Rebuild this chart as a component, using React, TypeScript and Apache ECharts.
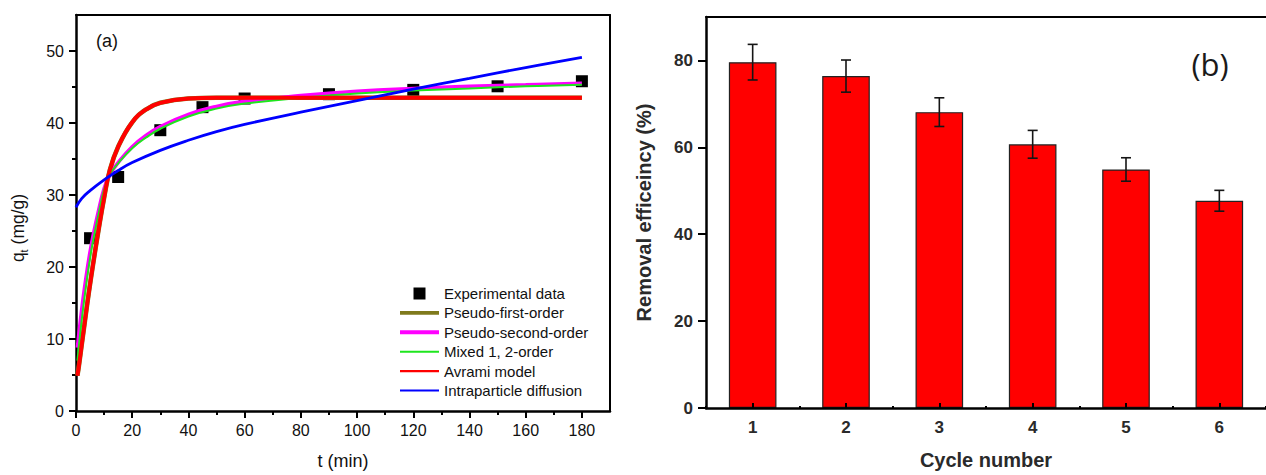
import React, { useEffect, useRef } from 'react';
import * as echarts from 'echarts';

// ---- Panel (a): adsorption kinetics ----
const tExp = [5, 15, 30, 45, 60, 90, 120, 150, 180];
const qExp = [24.0, 32.5, 39.0, 42.2, 43.4, 44.0, 44.6, 45.1, 45.8];

const tFit = [0.5, 1, 2, 3, 4, 5, 6, 8, 10, 12, 15, 20, 25, 30, 40, 50, 60, 80, 100, 120, 140, 160, 180];
const qPseudoFirst = [4.9, 6.2, 9.1, 12.0, 14.9, 17.6, 20.2, 25.1, 29.6, 33.4, 36.7, 40.1, 41.9, 42.8, 43.4, 43.5, 43.5, 43.5, 43.5, 43.5, 43.5, 43.5, 43.5];
const qPseudoSecond = [8.8, 10.6, 14.0, 17.0, 19.7, 22.1, 24.2, 27.8, 30.9, 32.8, 34.5, 36.7, 38.3, 39.5, 41.2, 42.3, 43.0, 43.8, 44.4, 44.8, 45.1, 45.3, 45.5];
const qMixed = [7.0, 8.9, 12.5, 15.7, 18.6, 21.2, 23.5, 27.3, 30.8, 32.8, 34.4, 36.5, 38.0, 39.2, 40.9, 42.0, 42.7, 43.5, 44.1, 44.5, 44.8, 45.1, 45.3];
const qAvrami = [4.9, 6.2, 9.1, 12.0, 14.9, 17.6, 20.2, 25.1, 29.6, 33.4, 36.7, 40.1, 41.9, 42.8, 43.4, 43.5, 43.5, 43.5, 43.5, 43.5, 43.5, 43.5, 43.5];

const tIntra = [0, 2, 5, 10, 15, 20, 30, 40, 50, 60, 80, 100, 120, 140, 160, 180];
const qIntra = [28.3, 29.5, 30.6, 32.1, 33.4, 34.5, 36.2, 37.6, 38.8, 39.8, 41.5, 43.1, 44.7, 46.2, 47.7, 49.1];

const xTicksA = [0, 20, 40, 60, 80, 100, 120, 140, 160, 180];
const xMinorA = [10, 30, 50, 70, 90, 110, 130, 150, 170];
const yTicksA = [0, 10, 20, 30, 40, 50];
const yMinorA = [5, 15, 25, 35, 45];

// ---- Panel (b): reusability ----
const cycles = ['1', '2', '3', '4', '5', '6'];
const removal = [79.6, 76.4, 68.1, 60.7, 54.9, 47.7];
const removalErr = [4.1, 3.7, 3.3, 3.2, 2.7, 2.4];
const yTicksB = [0, 20, 40, 60, 80];

const FONT = '"Liberation Sans", Arial, sans-serif';

export default function App() {
  const ref = useRef<HTMLDivElement>(null);
  useEffect(() => {
    document.body.style.margin = '0';
    const chart = echarts.init(ref.current!, null, { renderer: 'svg' });
    const black = '#000';
    const txt = '#111';
    const txtB = '#2a2a2a';
    const hiddenAxis = {
      axisTick: { show: false },
      axisLabel: { show: false },
      splitLine: { show: false },
    };
    const thick = 'path://M0,0H40V4H0Z';
    const thin = 'path://M0,0H40V2.2H0Z';
    const SM = 0.45;

    const option: any = {
      animation: false,
      backgroundColor: '#fff',
      grid: [
        { left: 76, top: 15, width: 534, height: 398 },
        { left: 706, top: 17, width: 569, height: 392 },
      ],
      xAxis: [
        {
          type: 'value', gridIndex: 0, min: 0, max: 190, position: 'bottom',
          axisLine: { show: true, onZero: false, lineStyle: { color: black, width: 2.5 } },
          axisTick: { show: true, customValues: xTicksA, length: 7, lineStyle: { color: black, width: 2 } },
          axisLabel: { customValues: xTicksA, color: txt, fontSize: 16, fontFamily: FONT, margin: 11 },
          splitLine: { show: false },
          name: 't (min)', nameLocation: 'middle', nameGap: 41,
          nameTextStyle: { fontSize: 18, color: txt, fontFamily: FONT },
        },
        {
          type: 'value', gridIndex: 0, min: 0, max: 190, position: 'bottom',
          axisLine: { show: false, onZero: false },
          axisTick: { show: true, customValues: xMinorA, length: 4, lineStyle: { color: black, width: 2 } },
          axisLabel: { show: false }, splitLine: { show: false },
        },
        {
          type: 'value', gridIndex: 0, min: 0, max: 190, position: 'top',
          axisLine: { show: true, onZero: false, lineStyle: { color: black, width: 2 } },
          ...hiddenAxis,
        },
        {
          type: 'category', gridIndex: 1, data: cycles, position: 'bottom', boundaryGap: true, z: 5,
          axisLine: { show: true, onZero: false, lineStyle: { color: black, width: 2.5 } },
          axisTick: { show: true, inside: true, alignWithLabel: true, length: 5, lineStyle: { color: black, width: 2 } },
          axisLabel: { color: txtB, fontSize: 17, fontWeight: 'bold', fontFamily: FONT, margin: 11 },
          splitLine: { show: false },
          name: 'Cycle number', nameLocation: 'middle', nameGap: 42,
          nameTextStyle: { fontSize: 20, fontWeight: 'bold', color: txtB, fontFamily: FONT },
        },
        {
          type: 'value', gridIndex: 1, min: 0, max: 12, interval: 1, position: 'bottom', z: 5,
          axisLine: { show: false, onZero: false },
          axisTick: { show: true, inside: true, length: 2, lineStyle: { color: black, width: 2 } },
          axisLabel: { show: false }, splitLine: { show: false },
        },
        {
          type: 'value', gridIndex: 1, min: 0, max: 12, position: 'top',
          axisLine: { show: true, onZero: false, lineStyle: { color: black, width: 2 } },
          ...hiddenAxis,
        },
      ],
      yAxis: [
        {
          type: 'value', gridIndex: 0, min: 0, max: 55, position: 'left',
          axisLine: { show: true, onZero: false, lineStyle: { color: black, width: 2.5 } },
          axisTick: { show: true, customValues: yTicksA, length: 7, lineStyle: { color: black, width: 2 } },
          axisLabel: { customValues: yTicksA, color: txt, fontSize: 16, fontFamily: FONT, margin: 12 },
          splitLine: { show: false },
        },
        {
          type: 'value', gridIndex: 0, min: 0, max: 55, position: 'left',
          axisLine: { show: false, onZero: false },
          axisTick: { show: true, customValues: yMinorA, length: 4, lineStyle: { color: black, width: 2 } },
          axisLabel: { show: false }, splitLine: { show: false },
        },
        {
          type: 'value', gridIndex: 0, min: 0, max: 55, position: 'right',
          axisLine: { show: true, onZero: false, lineStyle: { color: black, width: 2 } },
          ...hiddenAxis,
        },
        {
          type: 'value', gridIndex: 1, min: 0, max: 90, position: 'left',
          axisLine: { show: true, onZero: false, lineStyle: { color: black, width: 2.5 } },
          axisTick: { show: true, customValues: yTicksB, length: 8, lineStyle: { color: black, width: 2 } },
          axisLabel: { customValues: yTicksB, color: txtB, fontSize: 17, fontWeight: 'bold', fontFamily: FONT, margin: 13 },
          splitLine: { show: false },
          name: 'Removal efficeincy (%)', nameLocation: 'middle', nameGap: 52,
          nameTextStyle: { fontSize: 20, fontWeight: 'bold', color: txtB, fontFamily: FONT },
        },
      ],
      legend: {
        orient: 'vertical', left: 395, top: 281, itemWidth: 39, itemHeight: 12, itemGap: 4.4,
        symbolKeepAspect: true, selectedMode: false,
        itemStyle: { borderWidth: 0, opacity: 1 },
        textStyle: { fontSize: 15, color: txt, fontFamily: FONT },
        data: [
          { name: 'Experimental data', icon: 'path://M0,0H10V10H0Z', itemStyle: { color: '#000', opacity: 1 } },
          { name: 'Pseudo-first-order', icon: thick },
          { name: 'Pseudo-second-order', icon: thick },
          { name: 'Mixed 1, 2-order', icon: thin },
          { name: 'Avrami model', icon: thin },
          { name: 'Intraparticle diffusion', icon: thin },
        ],
      },
      graphic: [
        { type: 'text', x: 96, y: 41, style: { text: '(a)', fontSize: 18, fontFamily: FONT, fill: txt, verticalAlign: 'middle' } },
        { type: 'text', x: 1210, y: 64, style: { text: '(b)', fontSize: 31, fontFamily: '"Open Sans", sans-serif', fill: '#1a1a1a', align: 'center', verticalAlign: 'middle' } },
        {
          type: 'text', x: 18, y: 228, rotation: Math.PI / 2,
          style: {
            text: '{a|q}{b|t}{a| (mg/g)}', align: 'center', verticalAlign: 'middle', fill: txt,
            rich: {
              a: { fontSize: 17.5, fontFamily: FONT, fill: txt, lineHeight: 22 },
              b: { fontSize: 11, fontFamily: FONT, fill: txt, lineHeight: 9, verticalAlign: 'bottom' },
            },
          },
        },
      ],
      series: [
        {
          type: 'scatter', name: 'Experimental data', xAxisIndex: 0, yAxisIndex: 0,
          data: tExp.map((t, i) => [t, qExp[i]]), symbol: 'rect', symbolSize: 12,
          itemStyle: { color: '#000', opacity: 1 }, z: 2,
        },
        {
          type: 'line', name: 'Pseudo-first-order', xAxisIndex: 0, yAxisIndex: 0,
          data: tFit.map((t, i) => [t, qPseudoFirst[i]]), smooth: SM, symbol: 'none',
          lineStyle: { color: '#7f7a1c', width: 4.6 }, itemStyle: { color: '#7f7a1c' }, z: 3,
        },
        {
          type: 'line', name: 'Pseudo-second-order', xAxisIndex: 0, yAxisIndex: 0,
          data: tFit.map((t, i) => [t, qPseudoSecond[i]]), smooth: SM, symbol: 'none',
          lineStyle: { color: '#ff00ff', width: 3.6 }, itemStyle: { color: '#ff00ff' }, z: 3,
        },
        {
          type: 'line', name: 'Mixed 1, 2-order', xAxisIndex: 0, yAxisIndex: 0,
          data: tFit.map((t, i) => [t, qMixed[i]]), smooth: SM, symbol: 'none',
          lineStyle: { color: '#1ee61e', width: 2 }, itemStyle: { color: '#1ee61e' }, z: 3,
        },
        {
          type: 'line', name: 'Avrami model', xAxisIndex: 0, yAxisIndex: 0,
          data: tFit.map((t, i) => [t, qAvrami[i]]), smooth: SM, symbol: 'none',
          lineStyle: { color: '#ff0000', width: 4 }, itemStyle: { color: '#ff0000' }, z: 3,
        },
        {
          type: 'line', name: 'Intraparticle diffusion', xAxisIndex: 0, yAxisIndex: 0,
          data: tIntra.map((t, i) => [t, qIntra[i]]), smooth: SM, symbol: 'none',
          lineStyle: { color: '#0000ff', width: 2.8 }, itemStyle: { color: '#0000ff' }, z: 3,
        },
        {
          type: 'bar', name: 'Removal efficiency', xAxisIndex: 3, yAxisIndex: 3,
          data: removal, barWidth: '51%',
          itemStyle: { color: '#ff0000', borderColor: '#222', borderWidth: 1.2 }, z: 2,
        },
        {
          type: 'custom', name: 'Error', xAxisIndex: 3, yAxisIndex: 3,
          data: removal.map((v, i) => [i, v - removalErr[i], v + removalErr[i]]),
          encode: { x: 0, y: [1, 2] },
          renderItem: (params: any, api: any) => {
            const x = api.value(0);
            const top = api.coord([x, api.value(2)]);
            const bot = api.coord([x, api.value(1)]);
            const hw = 5;
            const st = { stroke: '#151515', lineWidth: 1.6 };
            return {
              type: 'group',
              children: [
                { type: 'line', shape: { x1: top[0], y1: top[1], x2: bot[0], y2: bot[1] }, style: st },
                { type: 'line', shape: { x1: top[0] - hw, y1: top[1], x2: top[0] + hw, y2: top[1] }, style: st },
                { type: 'line', shape: { x1: bot[0] - hw, y1: bot[1], x2: bot[0] + hw, y2: bot[1] }, style: st },
              ],
            };
          },
          z: 6,
        },
      ],
    };
    chart.setOption(option);
    return () => chart.dispose();
  }, []);
  return <div ref={ref} style={{ width: 1266, height: 475 }} />;
}
